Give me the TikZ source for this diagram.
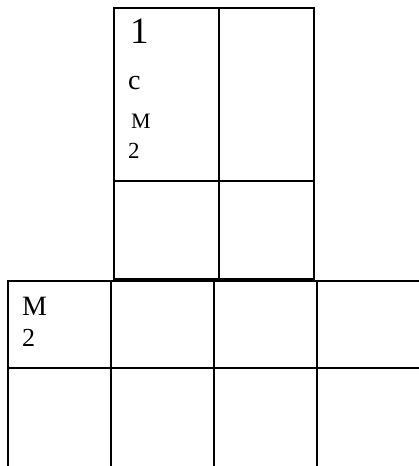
\documentclass[tikz,border=0pt]{standalone}
\usepackage{fontspec}
\setmainfont{Liberation Serif}
\usetikzlibrary{positioning}
\newcommand{\fsz}[1]{\fontsize{#1}{#1}\selectfont}

\begin{document}
\begin{tikzpicture}[x=1pt, y=-1pt,
  grid/.style={line width=2.4pt},
  lbl/.style={inner sep=0pt, anchor=base west}]
  \useasboundingbox (0,0) rectangle (419,466);
  % upper table, 2 x 2
  \draw[grid] (114,8) rectangle (314,279);
  \draw[grid] (219,8) -- (219,279);
  \draw[grid] (114,181) -- (314,181);
  % lower table, open on the right and at the bottom
  \draw[grid] (8,466) -- (8,281) -- (419,281);
  \draw[grid] (8,368) -- (419,368);
  \foreach \xx in {111,214,317} \draw[grid] (\xx,281) -- (\xx,466);
  % texts
  \node[lbl, font=\fsz{37}] (one) at (130,43) {1};
  \node[lbl, font=\fsz{28}] (es) at (128,89) {с};
  \node[lbl, font=\fsz{22}] (em) at (131,128) {М};
  \node[lbl, font=\fsz{23}] (two) at (128,158) {2};
  \node[lbl, font=\fsz{28}] (emb) at (22,315) {М};
  \node[lbl, font=\fsz{26}] (twob) at (22,346) {2};
\end{tikzpicture}
\end{document}
